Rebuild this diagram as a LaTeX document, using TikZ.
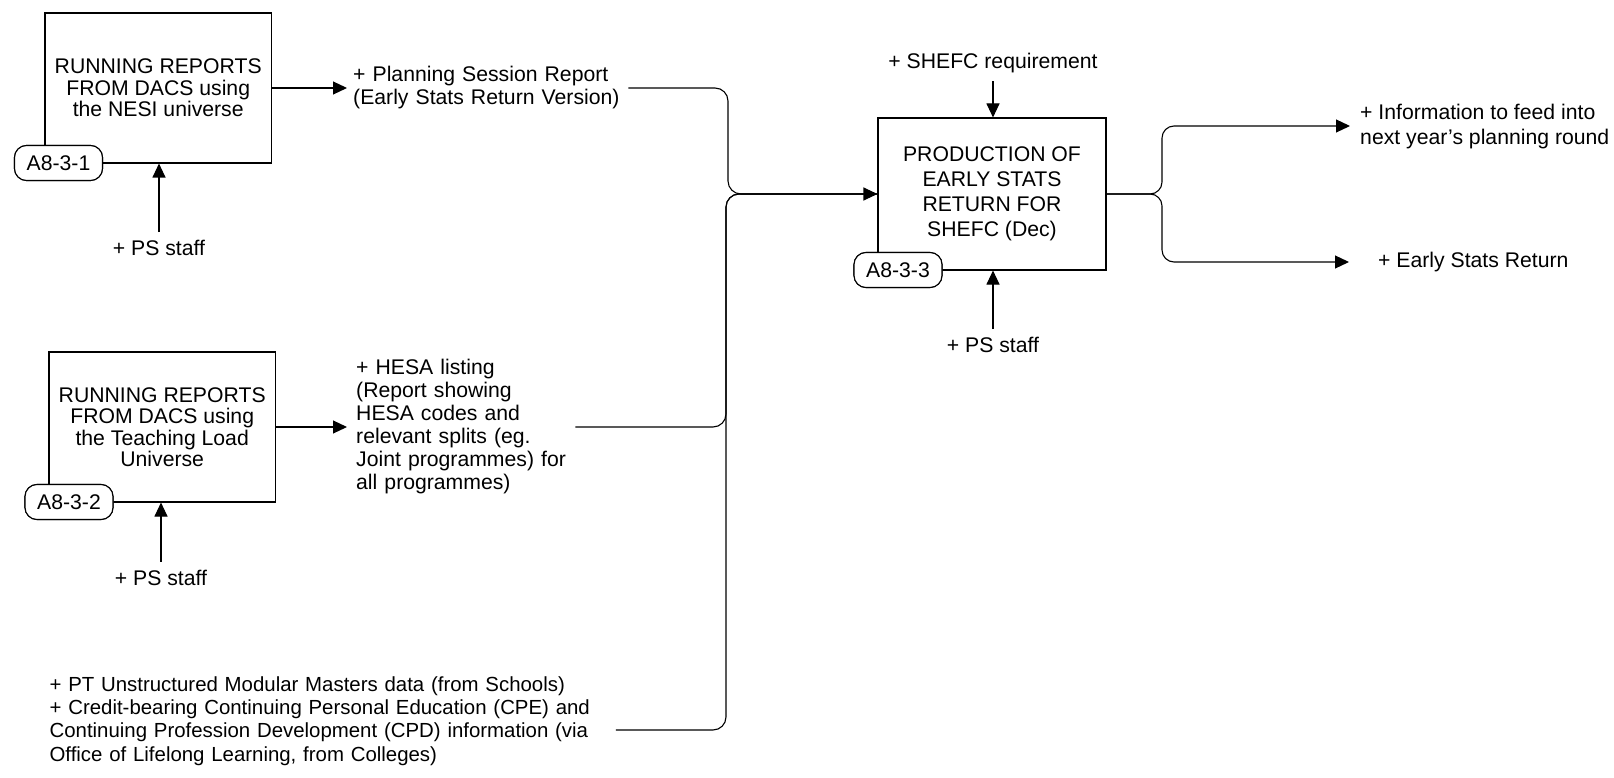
\documentclass[tikz,border=0pt]{standalone}
\usepackage{fontspec}
\setmainfont{Liberation Sans}
\usetikzlibrary{arrows.meta,calc}
\begin{document}
\begin{tikzpicture}[x=1pt,y=-1pt,
  base/.style={font=\fontsize{21.2}{23}\selectfont},
  box/.style={draw, line width=1.1pt, minimum width=226.5pt, minimum height=150pt, align=center, inner sep=0pt, font=\fontsize{21.2}{21.5}\selectfont},
  bigbox/.style={box, minimum width=228pt, minimum height=152pt, font=\fontsize{21.2}{25}\selectfont},
  tag/.style={draw, fill=white, line width=1.1pt, rounded corners=12pt, minimum width=88pt, minimum height=35pt, inner sep=0pt, font=\fontsize{21.2}{25}\selectfont},
  txt/.style={base, align=left, inner xsep=6pt, inner ysep=0pt, anchor=west},
  lbl/.style={base, inner xsep=3pt, inner ysep=8pt},
  ln/.style={line width=1.1pt},
  arr/.style={ln, -{Triangle[length=14pt,width=13pt]}}
]
\useasboundingbox (0,0) rectangle (1614,778);

% boxes
\node[box] (b1) at (158.2,88) {RUNNING REPORTS\\FROM DACS using\\the NESI universe};
\node[box] (b2) at (162.2,427) {RUNNING REPORTS\\FROM DACS using\\the Teaching Load\\Universe};
\node[bigbox] (b3) at (992,194) {PRODUCTION OF\\EARLY STATS\\RETURN FOR\\SHEFC (Dec)};

% tags
\node[tag] (t1) at (58.5,163) {A8-3-1};
\node[tag] (t2) at (69,502) {A8-3-2};
\node[tag] (t3) at (898,270) {A8-3-3};

% texts
\node[txt, text width=269pt] (plan) at (347,88) {+ Planning Session Report\\(Early Stats Return Version)};
\node[txt, inner xsep=9pt, text width=210pt] (hesa) at (347,427) {+ HESA listing\\(Report showing\\HESA codes and\\relevant splits (eg.\\Joint programmes) for\\all programmes)};
\node[txt, text width=560pt, font=\fontsize{20.4}{23.3}\selectfont] (pt) at (43.4,721) {+ PT Unstructured Modular Masters data (from Schools)\\+ Credit-bearing Continuing Personal Education (CPE) and\\Continuing Profession Development (CPD) information (via\\Office of Lifelong Learning, from Colleges)};
\node[txt, inner xsep=10pt, font=\fontsize{21.2}{25}\selectfont] (info) at (1350,127) {+ Information to feed into\\next year’s planning round};
\node[txt] (esr) at (1372,262) {+ Early Stats Return};

\node[lbl] (shefc) at (993,63) {+ SHEFC requirement};
\node[lbl] (ps1) at (159,248) {+ PS staff};
\node[lbl] (ps2) at (161,577.5) {+ PS staff};
\node[lbl] (ps3) at (993,345) {+ PS staff};

% junction points
\coordinate (m1) at (728,194);
\coordinate (m2) at (726,194);
\coordinate (up) at (1162,126);
\coordinate (dn) at (1162,262);

% connectors
\draw[arr] (b1.east) -- (plan.west);
\draw[arr] (b2.east) -- (hesa.west);
\draw[ln, rounded corners=13pt] (hesa.east) -| (m2) -- (b3.west);
\draw[ln, rounded corners=13pt] ([yshift=-9pt]pt.east) -| (m2) -- (b3.west);
\draw[arr, rounded corners=13pt] (plan.east) -| (m1) -- (b3.west);

\draw[arr] (shefc.south) -- (shefc.south |- b3.north);
\draw[arr] (ps3.north) -- (ps3.north |- b3.south);
\draw[arr] (ps1.north) -- (ps1.north |- b1.south);
\draw[arr] (ps2.north) -- (ps2.north |- b2.south);

\draw[arr, rounded corners=12pt] (b3.east) -| (up) -- (info.west |- up);
\draw[arr, rounded corners=12pt, shorten >=23pt] (b3.east) -| (dn) -- (esr.west |- dn);

% redraw tags on top of box edges
\node[tag] at (t1) {A8-3-1};
\node[tag] at (t2) {A8-3-2};
\node[tag] at (t3) {A8-3-3};
\end{tikzpicture}
\end{document}
